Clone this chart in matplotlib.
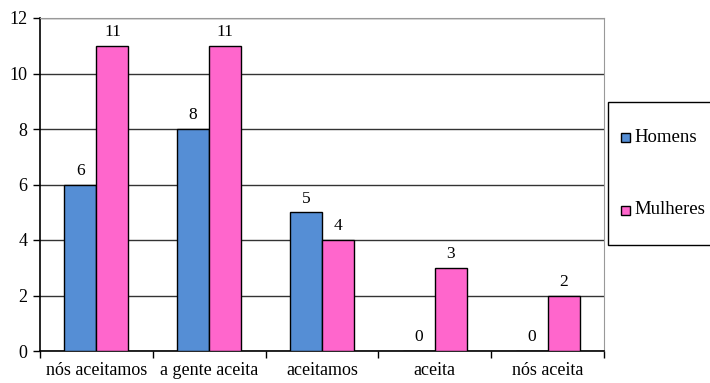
import numpy as np
import matplotlib
matplotlib.use("Agg")
import matplotlib.pyplot as plt
from matplotlib.patches import Rectangle

categories = ["nós aceitamos", "a gente aceita", "aceitamos", "aceita", "nós aceita"]
homens = [6, 8, 5, 0, 0]
mulheres = [11, 11, 4, 3, 2]
series_names = ["Homens", "Mulheres"]

BLUE = "#558ed5"
PINK = "#ff66cc"

plt.rcParams["font.family"] = ["Liberation Serif", "DejaVu Serif"]

fig = plt.figure(figsize=(7.1, 3.83), dpi=100)
ax = fig.add_axes([40 / 710, 1 - 351 / 383, 564 / 710, 333 / 383])

x = np.arange(len(categories))
w = 0.284
b1 = ax.bar(x - w / 2, homens, w, color=BLUE, edgecolor="black", linewidth=1.0, zorder=3)
b2 = ax.bar(x + w / 2, mulheres, w, color=PINK, edgecolor="black", linewidth=1.0, zorder=3)

for bars, vals in ((b1, homens), (b2, mulheres)):
    for bar, v in zip(bars, vals):
        ax.annotate(str(v), (bar.get_x() + bar.get_width() / 2, v),
                    xytext=(0, 4), textcoords="offset points",
                    ha="center", va="bottom", fontsize=12.5)

ax.set_xlim(-0.5, len(categories) - 0.5)
ax.set_ylim(0, 12)
ax.set_yticks(range(0, 13, 2))
ax.yaxis.grid(True, color="#333333", linewidth=1.0, zorder=0)
ax.set_axisbelow(True)

ax.set_xticks(np.arange(len(categories) + 1) - 0.5, minor=False)
ax.set_xticklabels([])
ax.set_xticks(x, minor=True)
ax.set_xticklabels(categories, minor=True, fontsize=13)
ax.tick_params(axis="x", which="minor", length=0, pad=8)
ax.tick_params(axis="x", which="major", length=5, direction="out", width=1)
ax.tick_params(axis="y", length=5, direction="out", width=1, labelsize=13, pad=4)

for side in ("top", "right"):
    ax.spines[side].set_color("#999999")
for side in ("left", "bottom"):
    ax.spines[side].set_color("black")
    ax.spines[side].set_linewidth(1.2)

# legend box on the right, partly clipped by the figure edge
fig.patches.append(Rectangle((608 / 710, 1 - 245 / 383), 110 / 710, 143 / 383,
                             transform=fig.transFigure, facecolor="white",
                             edgecolor="black", linewidth=1.0))
for name, col, ypx in ((series_names[0], BLUE, 137), (series_names[1], PINK, 210)):
    fig.patches.append(Rectangle((621 / 710, 1 - (ypx + 5) / 383), 9 / 710, 9 / 383,
                                 transform=fig.transFigure, facecolor=col,
                                 edgecolor="black", linewidth=1.0))
    fig.text(634 / 710, 1 - ypx / 383, name, fontsize=13.5, va="center", ha="left")

fig.savefig("out.png", dpi=100)
